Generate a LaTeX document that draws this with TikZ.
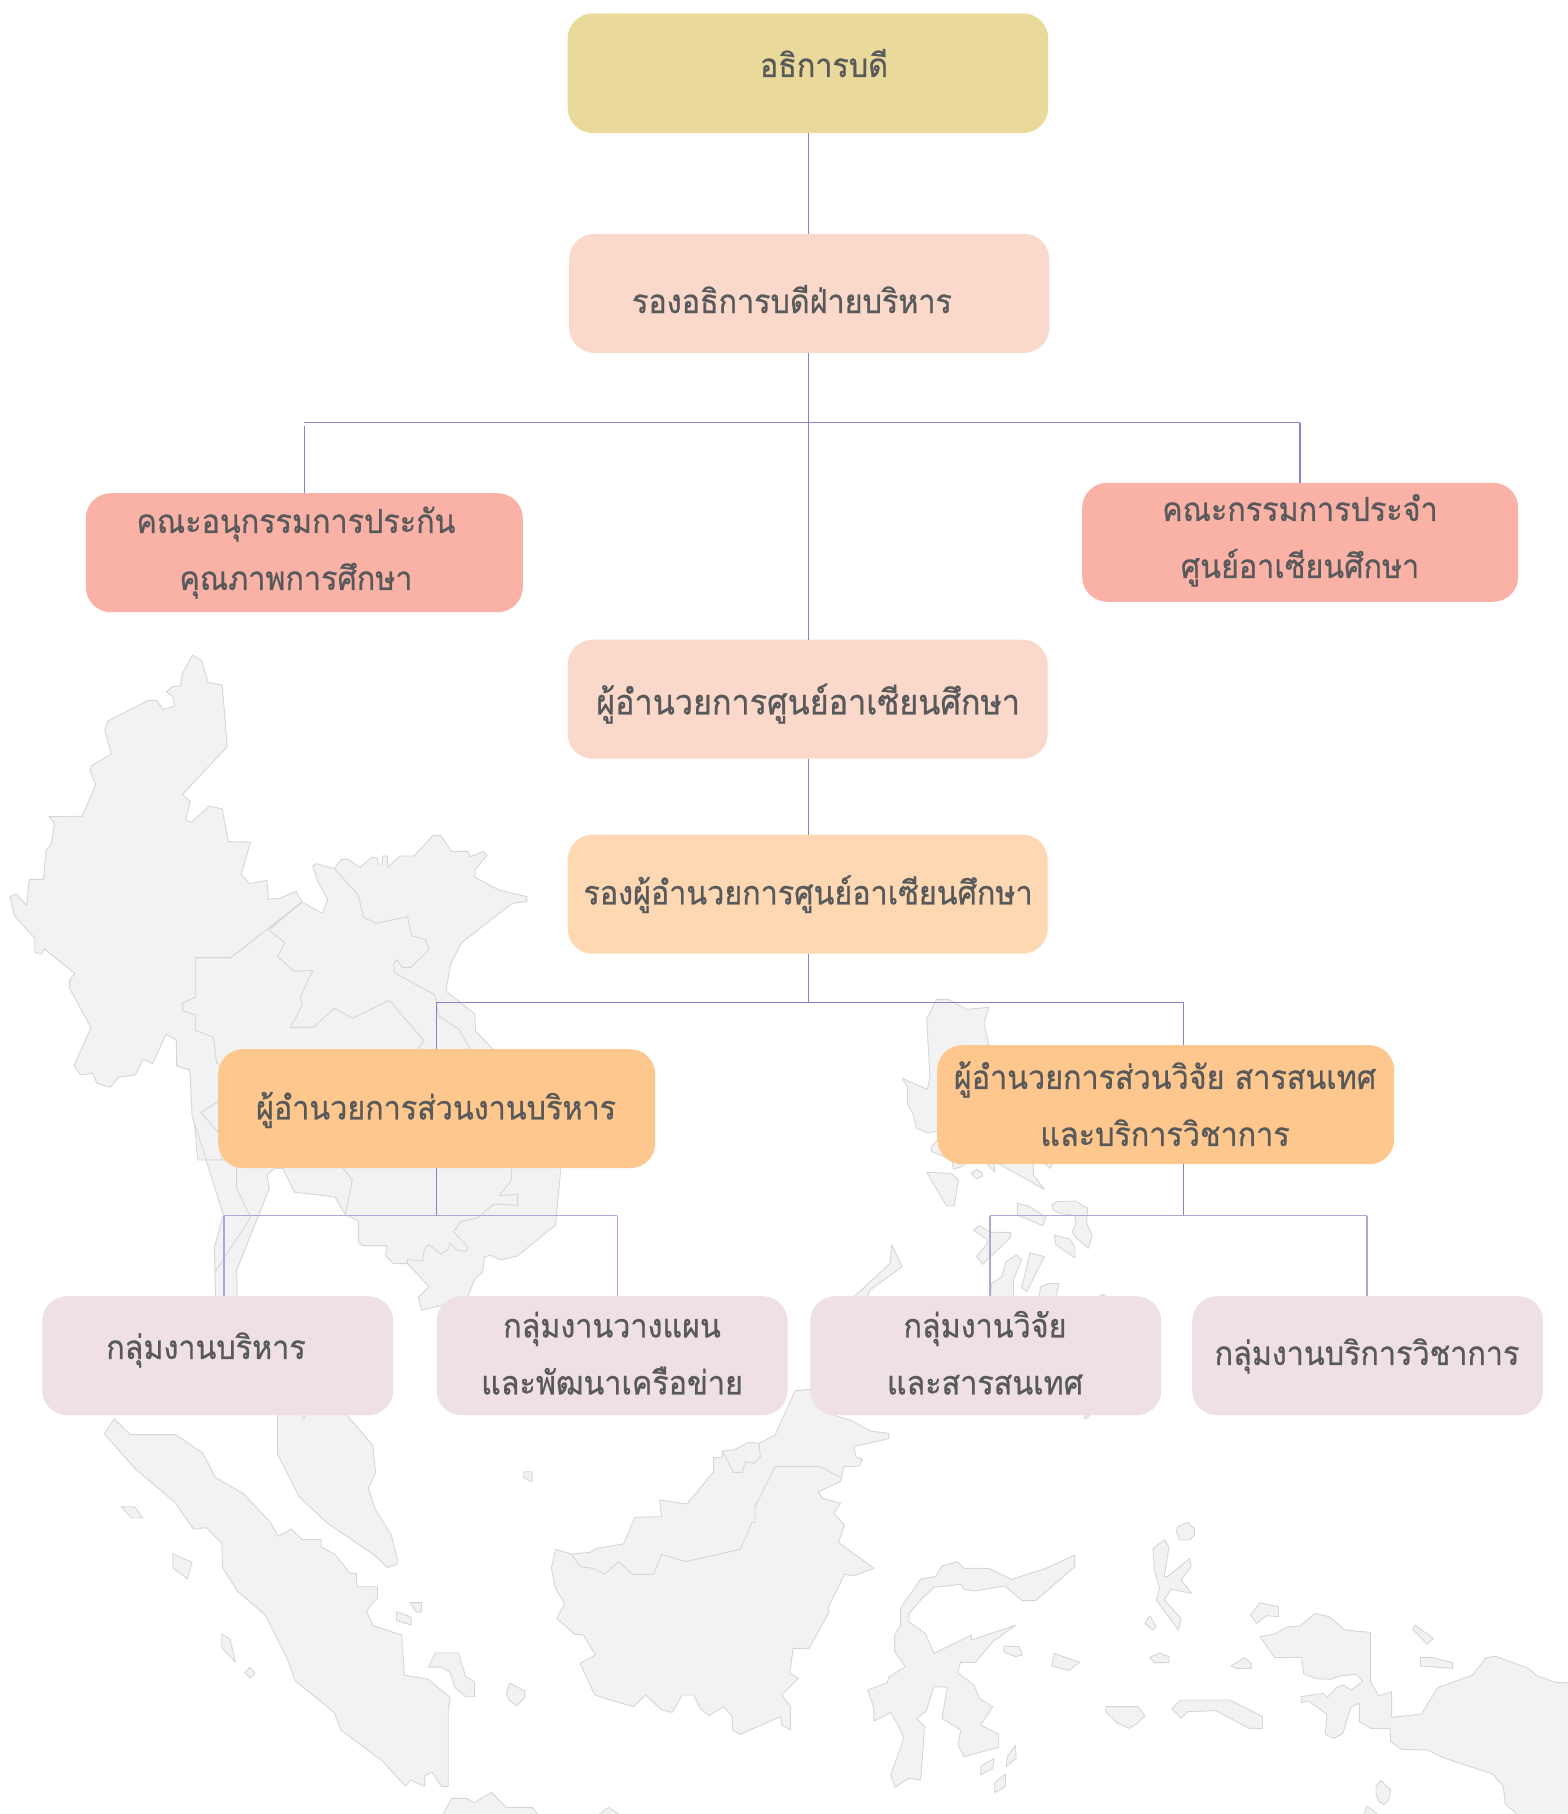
\documentclass[tikz,border=0pt]{standalone}
\usepackage{fontspec}
\newfontfamily\thaifont[Script=Thai,FakeStretch=0.924,FakeBold=0.7]{Loma}
\definecolor{land}{HTML}{F2F2F2}
\definecolor{landline}{HTML}{D6D6D6}
\definecolor{gold}{HTML}{E9D99B}
\definecolor{peach}{HTML}{FBD9CA}
\definecolor{salmon}{HTML}{FAB2A7}
\definecolor{apricot}{HTML}{FDD8B3}
\definecolor{orangebox}{HTML}{FEC78E}
\definecolor{pinkbox}{HTML}{EFDFE6}
\definecolor{wire}{HTML}{8484C8}
\definecolor{wirelight}{HTML}{A9A9D6}
\definecolor{ink}{HTML}{58595B}
\tikzset{
  landshape/.style={fill=land,draw=landline,line width=0.9pt,line join=round},
  borderline/.style={draw=landline,line width=0.9pt,line join=round},
  orgbox/.style={rectangle,rounded corners=25pt,inner sep=0pt,draw=none,anchor=north west},
  lbl/.style={inner sep=0pt,align=center,text=ink,font=\thaifont\fontsize{33}{57}\selectfont},
  lblbig/.style={inner sep=0pt,align=center,text=ink,font=\thaifont\fontsize{35}{57}\selectfont},
  conn/.style={draw=wire,line width=1.1pt},
  connlight/.style={draw=wirelight,line width=1.8pt},
}
\begin{document}
\begin{tikzpicture}[x=1pt,y=-1pt]
\useasboundingbox (0,0) rectangle (1567,1814);

% ---- map: mainland (zoom 1 scale)
\begin{scope}[shift={(0,640)},x=0.3953pt,y=-0.3333pt]
% Thailand + Cambodia + Laos + Vietnam mass
\path[landshape] (764,786)--(815,820)--(829,780)--(803,722)--(791,677)--(801,671)--(846,686)--(863,658)--(881,658)--(911,682)--(940,652)--(955,654)--(957,672)--(967,672)--(968,648)--(980,648)--(981,682)--(1012,648)--(1047,648)--(1095,587)--(1115,587)--(1142,634)--(1183,634)--(1190,650)--(1223,635)--(1232,647)--(1202,688)--(1201,712)--(1262,750)--(1333,770)--(1333,785)--(1296,790)--(1168,908)--(1140,972)--(1128,1053)--(1201,1122)--(1203,1174)--(1247,1227)--(1400,1400)--(1200,1560)--(500,1560)--(480,1290)--(447,1278)--(494,1171)--(494,1125)--(462,1112)--(462,1088)--(494,1072)--(494,953)--(584,953)--cycle;
% Myanmar
\path[landshape] (487,45)--(510,62)--(527,128)--(562,135)--(575,320)--(462,463)--(481,484)--(470,540)--(484,547)--(530,498)--(562,507)--(578,605)--(634,606)--(610,703)--(631,731)--(675,721)--(679,778)--(707,775)--(749,754)--(764,786)--(584,953)--(494,953)--(494,1072)--(462,1088)--(462,1112)--(494,1125)--(494,1171)--(540,1192)--(548,1270)--(600,1300)--(560,1560)--(522,1560)--(486,1430)--(480,1290)--(447,1278)--(446,1200)--(420,1183)--(386,1271)--(362,1258)--(342,1305)--(300,1312)--(279,1342)--(245,1330)--(235,1300)--(204,1305)--(187,1278)--(230,1163)--(176,1045)--(176,1020)--(189,1000)--(112,927)--(106,942)--(88,937)--(88,895)--(37,828)--(25,770)--(42,762)--(67,797)--(74,718)--(110,718)--(116,633)--(130,612)--(138,550)--(124,530)--(208,529)--(242,433)--(228,395)--(231,377)--(282,342)--(265,272)--(273,243)--(375,181)--(396,181)--(413,209)--(442,198)--(437,170)--(421,155)--(436,140)--(456,138)--(462,100)--cycle;
% inner borders
\path[borderline] (764,786)--(680,870)--(721,908)--(702,950)--(744,993)--(791,992)--(760,1070)--(765,1095)--(735,1162)--(792,1162)--(846,1105)--(891,1135)--(985,1081)--(1073,1203)--(1057,1227);
\path[borderline] (846,686)--(906,765)--(920,832)--(951,850)--(1031,830)--(1041,887)--(1076,899)--(1085,930)--(1040,982)--(1018,982)--(1003,959)--(996,972)--(998,998)--(1100,1065)--(1104,1087)--(1109,1127)--(1161,1168)--(1190,1227);
\path[borderline] (552,1385)--(508,1417)--(552,1477);
\end{scope}

% ---- lower peninsula, gulf, south Vietnam (zoom 8 scale)
\begin{scope}[shift={(180,1160)},x=0.3333pt,y=-0.3333pt]
\fill[white] (262,0)--(285,25)--(261,43)--(268,85)--(170,330)--(172,420)--(720,420)--(725,450)--(760,420)--(860,400)--(885,355)--(908,338)--(913,292)--(930,285)--(962,300)--(1012,288)--(1127,195)--(1140,40)--(1320,40)--(1320,460)--(1000,460)--(0,460)--(0,450)--(300,450)--(300,60)--(310,25)--cycle;
\path[landshape] (78,0)--(130,165)--(103,262)--(107,420)--(172,420)--(170,330)--(268,85)--(261,43)--(285,25)--(308,25)--(343,96)--(465,111)--(495,163)--(535,183)--(535,245)--(547,257)--(620,257)--(617,288)--(640,311)--(683,311)--(747,380)--(715,412)--(725,450)--(860,420)--(885,355)--(908,338)--(913,292)--(930,285)--(962,300)--(1012,288)--(1127,195)--(1143,20)--(1143,0)--cycle;
\path[borderline] (170,20)--(170,85)--(212,172)--(103,340);
\path[borderline] (490,25)--(517,60)--(496,163);
\path[borderline] (683,311)--(683,299)--(727,303)--(733,268)--(746,254)--(783,282)--(802,270)--(811,250)--(830,270)--(858,274)--(864,262)--(820,215)--(844,184)--(892,174)--(942,132)--(1013,136)--(1013,103)--(957,107)--(995,60)--(995,25);
\end{scope}

% ---- Sumatra, Malay peninsula (zoom 2 scale)
\begin{scope}[shift={(0,1160)},x=0.3953pt,y=-0.4167pt]
\path[landshape] (640,560)--(702,560)--(702,706)--(757,808)--(826,870)--(950,950)--(980,978)--(1005,970)--(1005,957)--(990,900)--(950,840)--(932,788)--(950,750)--(943,685)--(877,611)--(860,560)--cycle;
\path[landshape] (740,560)--(768,622)--(800,560)--cycle;
\path[landshape] (289,621)--(330,659)--(444,659)--(513,703)--(545,762)--(615,800)--(683,868)--(704,903)--(737,886)--(764,911)--(812,911)--(812,928)--(848,947)--(885,992)--(902,992)--(902,1024)--(955,1024)--(955,1050)--(927,1082)--(943,1117)--(1016,1140)--(1023,1236)--(1083,1246)--(1139,1290)--(1134,1320)--(1134,1503)--(1116,1503)--(1093,1469)--(1075,1478)--(1075,1503)--(1038,1488)--(1026,1503)--(967,1442)--(862,1368)--(846,1326)--(747,1250)--(728,1200)--(672,1093)--(601,1035)--(563,978)--(561,920)--(522,882)--(490,886)--(463,850)--(444,823)--(341,740)--(264,657)--cycle;
\path[landshape] (307,832)--(340,832)--(362,859)--(333,859)--cycle;
\path[landshape] (437,945)--(486,965)--(474,1005)--(437,979)--cycle;
\path[landshape] (561,1137)--(582,1150)--(596,1205)--(561,1170)--cycle;
\path[landshape] (632,1217)--(645,1232)--(632,1243)--(620,1230)--cycle;
\path[landshape] (1003,1084)--(1040,1097)--(1040,1116)--(1003,1105)--cycle;
\path[landshape] (1038,1062)--(1066,1062)--(1066,1085)--(1053,1085)--cycle;
\path[landshape] (1084,1217)--(1101,1183)--(1160,1183)--(1178,1240)--(1200,1252)--(1200,1288)--(1178,1288)--(1150,1265)--(1139,1230)--(1117,1217)--cycle;
\path[landshape] (1289,1255)--(1327,1274)--(1327,1290)--(1307,1310)--(1289,1297)--(1281,1280)--cycle;
\path[landshape] (1325,748)--(1346,748)--(1346,773)--(1325,762)--cycle;
\end{scope}

% ---- Java fragments (zoom 6 scale)
\begin{scope}[shift={(420,1760)},x=0.3333pt,y=-0.3333pt]
\path[landshape] (60,175)--(70,162)--(95,115)--(140,115)--(163,128)--(215,97)--(258,142)--(337,142)--(352,162)--(360,175)--cycle;
\path[landshape] (520,175)--(538,162)--(566,142)--(595,162)--(610,175)--cycle;
\end{scope}

% ---- Borneo, Sulawesi, Moluccas (zoom 3 scale)
\begin{scope}[shift={(520,1350)},x=0.6677pt,y=-0.3333pt]
\path[landshape] (435,118)--(470,196)--(495,210)--(525,243)--(552,250)--(552,266)--(500,290)--(503,320)--(513,328)--(508,348)--(485,350)--(480,395)--(447,425)--(453,445)--(480,460)--(470,490)--(486,525)--(477,577)--(530,655)--(500,677)--(486,673)--(461,775)--(463,785)--(433,895)--(409,895)--(404,970)--(417,985)--(392,1035)--(405,1070)--(405,1140)--(392,1125)--(390,1100)--(330,1153)--(318,1140)--(318,1100)--(305,1070)--(283,1097)--(270,1075)--(260,1035)--(243,1035)--(228,1087)--(212,1080)--(188,1035)--(170,1070)--(135,1050)--(112,1035)--(90,940)--(113,915)--(95,855)--(82,853)--(55,805)--(67,760)--(53,715)--(47,655)--(53,598)--(77,612)--(105,607)--(115,595)--(155,582)--(172,502)--(212,500)--(209,450)--(250,462)--(290,365)--(290,323)--(303,322)--(303,303)--(320,300)--(342,277)--(358,280)--(382,255)--(412,122)--cycle;
\path[borderline] (77,612)--(90,650)--(110,655)--(127,672)--(148,635)--(168,673)--(200,673)--(212,613)--(248,635)--(330,598)--(347,518)--(352,518)--(352,470)--(382,350)--(450,350)--(480,382);
\path[borderline] (303,303)--(320,367)--(333,367)--(337,335)--(350,340)--(360,320)--(358,280);
\path[landshape] (655,635)--(665,655)--(702,655)--(736,688)--(788,655)--(831,615)--(831,650)--(772,752)--(752,752)--(726,708)--(680,723)--(665,718)--(660,703)--(620,712)--(600,750)--(583,790)--(582,815)--(607,850)--(620,910)--(676,855)--(676,870)--(742,826)--(708,875)--(682,937)--(660,937)--(655,968)--(680,1005)--(688,1045)--(708,1070)--(690,1125)--(717,1153)--(717,1192)--(665,1220)--(656,1185)--(660,1140)--(632,1105)--(640,1012)--(620,1010)--(608,1085)--(594,1105)--(606,1130)--(600,1290)--(582,1285)--(562,1312)--(555,1275)--(575,1165)--(565,1120)--(555,1088)--(530,1113)--(530,1075)--(521,1020)--(550,998)--(552,982)--(577,950)--(561,905)--(561,855)--(570,825)--(570,775)--(600,687)--(622,680)--(632,648)--cycle;
\path[landshape] (725,888)--(748,890)--(752,915)--(742,920)--(725,907)--cycle;
\path[landshape] (800,910)--(838,937)--(822,962)--(796,948)--cycle;
\path[landshape] (742,1186)--(743,1225)--(728,1250)--(730,1220)--cycle;
\path[landshape] (710,1225)--(708,1255)--(690,1275)--(690,1250)--cycle;
\path[landshape] (727,1272)--(727,1310)--(711,1328)--(711,1298)--cycle;
\path[landshape] (1000,517)--(1010,535)--(1010,555)--(1003,570)--(988,570)--(983,545)--(985,530)--cycle;
\path[landshape] (965,570)--(972,590)--(965,680)--(970,680)--(1003,625)--(1005,650)--(990,690)--(1006,730)--(975,718)--(965,750)--(990,805)--(986,840)--(953,750)--(958,715)--(950,660)--(948,595)--cycle;
\path[landshape] (943,797)--(953,830)--(948,840)--(936,820)--cycle;
\path[landshape] (1108,758)--(1136,770)--(1136,800)--(1118,797)--(1103,820)--(1094,795)--cycle;
\path[landshape] (958,910)--(972,920)--(972,938)--(950,938)--(943,922)--cycle;
\path[landshape] (1085,923)--(1095,940)--(1095,955)--(1072,955)--(1065,948)--cycle;
\path[landshape] (878,1070)--(925,1070)--(936,1097)--(925,1120)--(912,1135)--(895,1120)--(877,1085)--cycle;
\path[landshape] (990,1050)--(1063,1050)--(1112,1100)--(1112,1135)--(1092,1135)--(1042,1082)--(1000,1085)--(990,1105)--(976,1075)--cycle;
\end{scope}

% ---- New Guinea (zoom 7 scale)
\begin{scope}[shift={(1300,1600)},x=0.3333pt,y=-0.3333pt]
\path[landshape] (-76,173)--(-120,110)--(-76,102)--(-36,80)--(0,78)--(45,40)--(88,50)--(135,90)--(211,97)--(211,245)--(236,287)--(275,275)--(275,352)--(364,342)--(413,263)--(518,225)--(558,173)--(587,169)--(685,205)--(712,228)--(767,247)--(810,248)--(810,650)--(660,650)--(616,612)--(610,560)--(578,522)--(435,475)--(383,450)--(305,448)--(272,425)--(270,385)--(213,385)--(178,365)--(178,310)--(153,320)--(128,402)--(100,415)--(76,403)--(80,343)--(25,302)--(5,308)--(3,290)--(70,280)--(82,292)--(110,262)--(130,255)--(153,270)--(188,245)--(170,223)--(120,228)--(92,238)--(50,236)--(11,222)--(5,172)--cycle;
\path[landshape] (345,75)--(400,115)--(382,132)--(338,88)--cycle;
\path[landshape] (361,172)--(393,172)--(458,188)--(458,205)--(361,198)--cycle;
\path[landshape] (243,542)--(272,570)--(266,600)--(252,614)--(235,603)--(228,580)--(228,558)--cycle;
\path[landshape] (200,618)--(240,648)--(190,648)--cycle;
\end{scope}

% ---- Philippines (zoom 4 scale)
\begin{scope}[shift={(820,960)},x=0.3333pt,y=-0.3333pt]
\path[landshape] (350,118)--(385,118)--(440,148)--(507,142)--(492,190)--(507,255)--(640,500)--(640,645)--(673,688)--(535,611)--(490,560)--(425,620)--(400,627)--(395,590)--(352,515)--(320,518)--(290,505)--(280,465)--(262,430)--(262,380)--(247,355)--(322,388)--(330,350)--(320,178)--cycle;
\path[landshape] (352,540)--(335,560)--(335,575)--(385,595)--(420,590)--cycle;
\path[landshape] (480,590)--(525,637)--(518,590)--cycle;
\path[landshape] (650,590)--(690,625)--(710,590)--cycle;
\path[landshape] (320,637)--(395,640)--(415,660)--(403,738)--(380,738)--cycle;
\path[landshape] (453,640)--(470,628)--(488,640)--(488,648)--(470,657)--cycle;
\path[landshape] (592,730)--(625,738)--(678,772)--(668,797)--(592,765)--cycle;
\path[landshape] (695,735)--(712,725)--(765,723)--(803,745)--(800,790)--(817,828)--(805,865)--(765,830)--(757,815)--(768,790)--(765,767)--(720,760)--(700,750)--cycle;
\path[landshape] (703,825)--(750,838)--(765,862)--(765,893)--(708,855)--cycle;
\path[landshape] (460,810)--(478,797)--(512,817)--(572,817)--(572,832)--(488,913)--(470,890)--(502,850)--(500,838)--cycle;
\path[landshape] (590,885)--(605,900)--(580,960)--(582,1040)--(510,1040)--(515,970)--(545,950)--(558,905)--cycle;
\path[landshape] (630,878)--(673,890)--(620,995)--(605,983)--cycle;
\path[landshape] (652,1040)--(662,980)--(690,970)--(717,970)--(700,1040)--cycle;
\path[landshape] (215,855)--(247,920)--(150,990)--(130,1040)--(70,1040)--(210,910)--cycle;
\path[landshape] (800,1040)--(848,1003)--(900,1040)--(810,1365)--(795,1378)--(790,1340)--cycle;
\end{scope}

% ---- boxes
\node[orgbox,fill=gold,minimum width=480.5pt,minimum height=119.5pt] (b1) at (567.5,13.3) {};
\node[orgbox,fill=peach,minimum width=480pt,minimum height=119pt] (b2) at (569,233.7) {};
\node[orgbox,fill=salmon,minimum width=437pt,minimum height=119pt] (b3) at (85.6,493) {};
\node[orgbox,fill=salmon,minimum width=436pt,minimum height=119pt] (b4) at (1082,482.6) {};
\node[orgbox,fill=peach,minimum width=480pt,minimum height=119pt] (b5) at (567.5,639.5) {};
\node[orgbox,fill=apricot,minimum width=480pt,minimum height=119pt] (b6) at (567.5,834.5) {};
\node[orgbox,fill=orangebox,minimum width=437pt,minimum height=119pt] (b7) at (218,1049) {};
\node[orgbox,fill=orangebox,minimum width=457pt,minimum height=119pt] (b8) at (937,1045) {};
\node[orgbox,fill=pinkbox,minimum width=351pt,minimum height=119pt] (b9) at (42,1296) {};
\node[orgbox,fill=pinkbox,minimum width=351pt,minimum height=119pt] (b10) at (436.4,1296) {};
\node[orgbox,fill=pinkbox,minimum width=351pt,minimum height=119pt] (b11) at (810,1296) {};
\node[orgbox,fill=pinkbox,minimum width=351pt,minimum height=119pt] (b12) at (1192,1296) {};

% ---- junction points
\coordinate (jtop) at (808.6,422.5);
\coordinate (jtopl) at (304.4,422.5);
\coordinate (jtopr) at (1300,422.5);
\coordinate (jmid) at (808.6,1002.3);
\coordinate (jmidl) at (436.4,1002.3);
\coordinate (jmidr) at (1183.4,1002.3);
\coordinate (jlow) at (436.4,1215.5);
\coordinate (jlowa) at (224,1215.5);
\coordinate (jlowb) at (617.4,1215.5);
\coordinate (jres) at (1183.4,1215.5);
\coordinate (jresa) at (989.7,1215.5);
\coordinate (jresb) at (1367,1215.5);

% ---- connectors
\draw[conn] (jtop |- b1.south) -- (jtop |- b2.north);
\draw[conn] (jtop |- b2.south) -- (jtop |- b5.north);
\draw[conn] (jtopl) -- (jtopr);
\draw[conn] ([yshift=-3pt]jtopl) -- (jtopl |- b3.north);
\draw[conn] (jtopr) -- (jtopr |- b4.north);
\draw[conn] (jtop |- b5.south) -- (jtop |- b6.north);
\draw[conn] (jtop |- b6.south) -- (jmid);
\draw[conn] (jmidl) -- (jmidr);
\draw[conn] (jmidl) -- (jmidl |- b7.north);
\draw[conn] (jmidr) -- (jmidr |- b8.north);
\draw[conn] (jlow |- b7.south) -- (jlow);
\draw[conn] (jres |- b8.south) -- (jres);
\draw[connlight] (jlowa) -- (jlowb);
\draw[connlight] (jlowa) -- (jlowa |- b9.north);
\draw[connlight] (jlowb) -- (jlowb |- b10.north);
\draw[connlight] (jresa) -- (jresb);
\draw[connlight] (jresa) -- (jresa |- b11.north);
\draw[connlight] (jresb) -- (jresb |- b12.north);

% ---- labels
\node[lbl] (t1) at (824,65.6) {\strut อธิการบดี};
\node[lbl] (t2) at (792,301.6) {\strut รองอธิการบดีฝ่ายบริหาร};
\node[lbl] (t3) at (296,550) {\strut คณะอนุกรรมการประกัน\\\strut คุณภาพการศึกษา};
\node[lbl] (t4) at (1300,538) {\strut คณะกรรมการประจำ\\\strut ศูนย์อาเซียนศึกษา};
\node[lblbig] (t5) at (808,703) {\strut ผู้อำนวยการศูนย์อาเซียนศึกษา};
\node[lbl] (t6) at (808,893) {\strut รองผู้อำนวยการศูนย์อาเซียนศึกษา};
\node[lbl] (t7) at (436,1108) {\strut ผู้อำนวยการส่วนงานบริหาร};
\node[lbl] (t8) at (1165,1106) {\strut ผู้อำนวยการส่วนวิจัย สารสนเทศ\\\strut และบริการวิชาการ};
\node[lbl] (t9) at (206,1347.5) {\strut กลุ่มงานบริหาร};
\node[lbl] (t10) at (612,1354.5) {\strut กลุ่มงานวางแผน\\\strut และพัฒนาเครือข่าย};
\node[lbl] (t11) at (985,1354.5) {\strut กลุ่มงานวิจัย\\\strut และสารสนเทศ};
\node[lbl] (t12) at (1367,1353.5) {\strut กลุ่มงานบริการวิชาการ};
\end{tikzpicture}
\end{document}
